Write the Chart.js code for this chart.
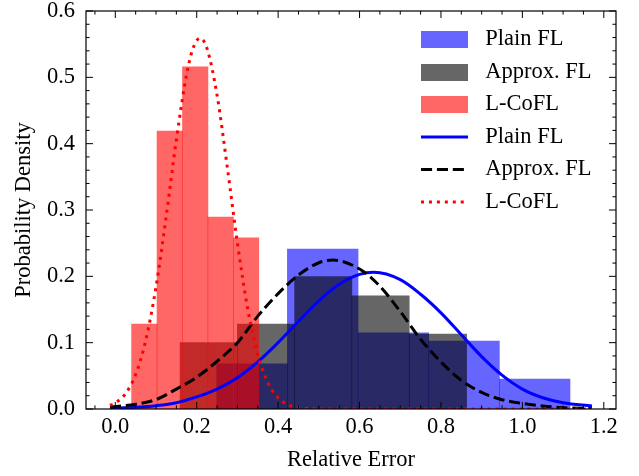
<!DOCTYPE html>
<html>
<head>
<meta charset="utf-8">
<script src="https://cdn.jsdelivr.net/npm/chart.js@4.4.1/dist/chart.umd.min.js"></script>
<style>
html,body{margin:0;padding:0;background:#fff;}
#wrap{width:639px;height:476px;}
</style>
</head>
<body>
<div id="wrap"><canvas id="c" width="639" height="476"></canvas></div>
<script>
// ---------- data ----------
const seriesLabels = ['Plain FL', 'Approx. FL', 'L-CoFL'];

// histogram bin edges (Relative Error) and heights (Probability Density)
const plainEdges   = [0.249, 0.4227, 0.5963, 0.770, 0.9435, 1.117];
const plainDensity = [0.068, 0.241, 0.115, 0.1025, 0.045];
const approxEdges   = [0.159, 0.300, 0.4405, 0.581, 0.722, 0.863];
const approxDensity = [0.100, 0.128, 0.1995, 0.1705, 0.113];
const lcoflEdges   = [0.040, 0.1025, 0.165, 0.2275, 0.290, 0.3525];
const lcoflDensity = [0.128, 0.419, 0.516, 0.2895, 0.258];

// fitted density curves
const plainCurveX = [-0.013, 0.05, 0.10, 0.15, 0.20, 0.25, 0.30, 0.35, 0.40, 0.45, 0.50, 0.55, 0.60, 0.635, 0.70, 0.75, 0.80, 0.85, 0.90, 0.95, 1.00, 1.05, 1.10, 1.171];
const plainCurveY = [0.001, 0.0025, 0.005, 0.0095, 0.0182, 0.030, 0.047, 0.071, 0.100, 0.132, 0.163, 0.188, 0.203, 0.206, 0.195, 0.173, 0.145, 0.112, 0.079, 0.051, 0.030, 0.017, 0.0095, 0.0045];

const approxCurveX = [-0.013, 0.05, 0.10, 0.15, 0.20, 0.25, 0.30, 0.35, 0.40, 0.45, 0.50, 0.535, 0.60, 0.65, 0.70, 0.75, 0.80, 0.85, 0.90, 0.95, 1.00, 1.05, 1.10, 1.171];
const approxCurveY = [0.0028, 0.0072, 0.0142, 0.030, 0.048, 0.072, 0.100, 0.140, 0.174, 0.202, 0.2205, 0.2245, 0.211, 0.185, 0.147, 0.105, 0.071, 0.043, 0.025, 0.014, 0.0085, 0.0045, 0.002, 0.0007];

const lcoflCurveX = [-0.013, 0.0, 0.025, 0.05, 0.075, 0.10, 0.125, 0.15, 0.175, 0.19, 0.208, 0.225, 0.25, 0.275, 0.30, 0.325, 0.35, 0.375, 0.40, 0.425, 0.45, 0.50, 0.60, 0.70, 0.80, 0.90, 1.00, 1.10, 1.171];
const lcoflCurveY = [0.0054, 0.0091, 0.023, 0.052, 0.104, 0.184, 0.290, 0.406, 0.504, 0.542, 0.559, 0.544, 0.473, 0.365, 0.250, 0.152, 0.082, 0.0395, 0.0167, 0.0063, 0.0021, 0.0002, 0, 0, 0, 0, 0, 0, 0];

// axis ticks
const xTickValues = [0, 0.2, 0.4, 0.6, 0.8, 1.0, 1.2];
const xTickLabels = ['0.0', '0.2', '0.4', '0.6', '0.8', '1.0', '1.2'];
const yTickValues = [0, 0.1, 0.2, 0.3, 0.4, 0.5, 0.6];
const yTickLabels = ['0.0', '0.1', '0.2', '0.3', '0.4', '0.5', '0.6'];
const xMinorStep = 0.05;
const yMinorStep = 0.02;

// ---------- helpers ----------
function histPoints(edges, heights) {
  return heights.map((h, i) => ({x: (edges[i] + edges[i + 1]) / 2, y: h}));
}
function curvePoints(xs, ys) {
  return xs.map((x, i) => ({x: x, y: ys[i]}));
}

const FONT = '"Liberation Serif", "Times New Roman", Times, serif';
Chart.defaults.font.family = FONT;
Chart.defaults.font.size = 22.5;
Chart.defaults.color = '#000';

const BLUE_FILL = 'rgba(0,0,255,0.6)';
const GRAY_FILL = 'rgba(0,0,0,0.6)';
const RED_FILL = 'rgba(255,0,0,0.6)';
const LW = 3;
const DASH = [11.1, 4.8];
const DOT = [3, 4.95];

// legend icons
function patchIcon(color) {
  const c = document.createElement('canvas');
  c.width = 53; c.height = 17;
  const g = c.getContext('2d');
  g.fillStyle = color;
  g.fillRect(0, 0, 47, 17);
  return c;
}
function lineIcon(color, dash) {
  const c = document.createElement('canvas');
  c.width = 53; c.height = 17;
  const g = c.getContext('2d');
  g.strokeStyle = color;
  g.lineWidth = LW;
  g.lineCap = 'butt';
  g.setLineDash(dash);
  g.beginPath();
  g.moveTo(0, 8.5);
  g.lineTo(47, 8.5);
  g.stroke();
  return c;
}
const legendIcons = [
  patchIcon(BLUE_FILL), patchIcon(GRAY_FILL), patchIcon(RED_FILL),
  lineIcon('#0000ff', []), lineIcon('#000000', DASH), lineIcon('#ff0000', DOT)
];

// frame + inward major/minor ticks on all four sides
const frameTicks = {
  id: 'frameTicks',
  afterDatasetsDraw(chart) {
    const {ctx, chartArea: a, scales: {x, y}} = chart;
    ctx.save();
    ctx.strokeStyle = '#000';
    ctx.lineWidth = 1;
    const major = 7, minor = 3.6;
    function vTick(px, len) {
      ctx.beginPath(); ctx.moveTo(px, a.bottom); ctx.lineTo(px, a.bottom - len); ctx.stroke();
      ctx.beginPath(); ctx.moveTo(px, a.top); ctx.lineTo(px, a.top + len); ctx.stroke();
    }
    function hTick(py, len) {
      ctx.beginPath(); ctx.moveTo(a.left, py); ctx.lineTo(a.left + len, py); ctx.stroke();
      ctx.beginPath(); ctx.moveTo(a.right, py); ctx.lineTo(a.right - len, py); ctx.stroke();
    }
    xTickValues.forEach(v => vTick(x.getPixelForValue(v), major));
    for (let k = Math.ceil(x.min / xMinorStep); k * xMinorStep <= x.max; k++) {
      const v = k * xMinorStep;
      if (xTickValues.some(t => Math.abs(t - v) < 1e-9)) continue;
      vTick(x.getPixelForValue(v), minor);
    }
    yTickValues.forEach(v => hTick(y.getPixelForValue(v), major));
    for (let k = 1; k * yMinorStep < y.max - 1e-9; k++) {
      const v = k * yMinorStep;
      if (yTickValues.some(t => Math.abs(t - v) < 1e-9)) continue;
      hTick(y.getPixelForValue(v), minor);
    }
    ctx.lineWidth = 1.2;
    ctx.strokeRect(a.left, a.top, a.right - a.left, a.bottom - a.top);
    ctx.restore();
  }
};

// place the legend inside the upper right of the plot
const legendPlace = {
  id: 'legendPlace',
  afterLayout(chart) {
    const lg = chart.legend;
    if (!lg) return;
    const pad = lg.options.labels.padding;
    lg.left = 421 - pad;
    lg.top = 28.25 - pad;
    lg.right = 636;
    lg.bottom = 260;
    lg.width = lg.right - lg.left;
    lg.height = lg.bottom - lg.top;
  }
};

const barCommon = {type: 'bar', barThickness: 'flex', barPercentage: 1, categoryPercentage: 1, borderWidth: 0};
const lineCommon = {type: 'line', pointRadius: 0, pointHoverRadius: 0, fill: false, borderWidth: LW, cubicInterpolationMode: 'monotone', borderCapStyle: 'butt'};

new Chart(document.getElementById('c'), {
  type: 'bar',
  data: {
    datasets: [
      Object.assign({}, barCommon, {label: seriesLabels[0], data: histPoints(plainEdges, plainDensity), backgroundColor: BLUE_FILL, order: 6}),
      Object.assign({}, barCommon, {label: seriesLabels[1], data: histPoints(approxEdges, approxDensity), backgroundColor: GRAY_FILL, order: 5}),
      Object.assign({}, barCommon, {label: seriesLabels[2], data: histPoints(lcoflEdges, lcoflDensity), backgroundColor: RED_FILL, order: 4}),
      Object.assign({}, lineCommon, {label: seriesLabels[0], data: curvePoints(plainCurveX, plainCurveY), borderColor: '#0000ff', order: 3}),
      Object.assign({}, lineCommon, {label: seriesLabels[1], data: curvePoints(approxCurveX, approxCurveY), borderColor: '#000000', borderDash: DASH, order: 2}),
      Object.assign({}, lineCommon, {label: seriesLabels[2], data: curvePoints(lcoflCurveX, lcoflCurveY), borderColor: '#ff0000', borderDash: DOT, order: 1})
    ]
  },
  options: {
    responsive: false,
    animation: false,
    devicePixelRatio: 1,
    layout: {padding: {top: 11, right: 23, bottom: 0, left: 0}},
    scales: {
      x: {
        type: 'linear', min: -0.072, max: 1.230, offset: false, stacked: true,
        grid: {display: false, drawTicks: false},
        border: {display: false},
        afterBuildTicks: s => { s.ticks = xTickValues.map(v => ({value: v})); },
        ticks: {padding: 5, autoSkip: false, maxRotation: 0, callback: (v, i) => xTickLabels[i]},
        title: {display: true, text: 'Relative Error', padding: {top: 4, bottom: 2.5}},
        afterFit: s => { s.height = 67; s.paddingLeft = 0; s.paddingRight = 0; }
      },
      y: {
        type: 'linear', min: 0, max: 0.6, stacked: false,
        grid: {display: false, drawTicks: false},
        border: {display: false},
        afterBuildTicks: s => { s.ticks = yTickValues.map(v => ({value: v})); },
        ticks: {padding: 11, autoSkip: false, callback: (v, i) => yTickLabels[i]},
        title: {display: true, text: 'Probability Density', padding: {top: 11, bottom: 0}},
        afterFit: s => { s.width = 86; s.paddingTop = 0; s.paddingBottom = 0; }
      }
    },
    plugins: {
      tooltip: {enabled: false},
      legend: {
        position: 'chartArea',
        align: 'start',
        labels: {
          usePointStyle: true,
          pointStyleWidth: 53,
          boxHeight: 17,
          padding: 10,
          color: '#000',
          font: {size: 22.5, family: FONT},
          sort: (a, b) => a.datasetIndex - b.datasetIndex,
          generateLabels: chart => chart.data.datasets.map((ds, i) => ({
            text: ds.label,
            datasetIndex: i,
            pointStyle: legendIcons[i],
            fillStyle: 'rgba(0,0,0,0)',
            strokeStyle: 'rgba(0,0,0,0)',
            lineWidth: 0,
            fontColor: '#000',
            hidden: false
          }))
        }
      }
    },
    events: []
  },
  plugins: [legendPlace, frameTicks]
});
</script>
</body>
</html>
